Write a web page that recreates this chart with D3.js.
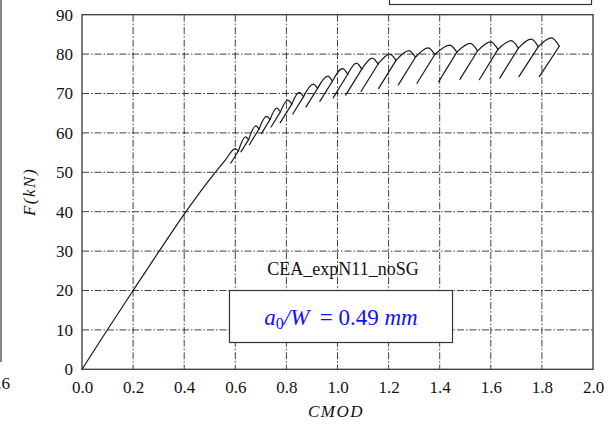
<!DOCTYPE html>
<html><head><meta charset="utf-8">
<script src="https://cdn.jsdelivr.net/npm/d3@7"></script>
<style>body{margin:0;background:#fff}svg{display:block}</style>
</head><body><svg id="c" width="614" height="427"></svg>
<script>
// ---- data ----
const xTicks = [0, 0.2, 0.4, 0.6, 0.8, 1.0, 1.2, 1.4, 1.6, 1.8, 2.0];
const yTicks = [0, 10, 20, 30, 40, 50, 60, 70, 80, 90];
// initial loading branch
const loadX = [0, 0.1, 0.2, 0.3, 0.4, 0.45, 0.5, 0.56];
const loadF = [0, 10.1, 20, 29.8, 39.4, 43.9, 48.2, 53.0];
// load cycles: peak, post-peak drop, unloading end
const peakX = [0.600, 0.640, 0.680, 0.722, 0.762, 0.805, 0.850, 0.905, 0.962, 1.020, 1.074, 1.136, 1.205, 1.280, 1.355, 1.440, 1.520, 1.600, 1.680, 1.758, 1.838];
const peakF = [56.0, 59.0, 61.8, 64.2, 66.3, 68.3, 70.3, 72.4, 74.4, 76.3, 77.7, 79.0, 80.0, 80.9, 81.6, 82.3, 82.7, 83.1, 83.4, 83.8, 84.1];
const dropX = [0.612, 0.652, 0.693, 0.736, 0.777, 0.821, 0.867, 0.922, 0.980, 1.040, 1.095, 1.159, 1.229, 1.305, 1.381, 1.467, 1.548, 1.628, 1.708, 1.786, 1.868];
const dropF = [55.4, 58.3, 61.0, 63.4, 65.4, 67.3, 69.2, 71.3, 73.1, 74.9, 76.2, 77.5, 78.4, 79.2, 79.9, 80.5, 80.8, 81.2, 81.5, 81.9, 82.0];
const lowX  = [0.582, 0.622, 0.655, 0.702, 0.740, 0.776, 0.825, 0.877, 0.931, 0.983, 1.032, 1.092, 1.161, 1.238, 1.311, 1.396, 1.479, 1.555, 1.635, 1.710, 1.790];
const lowF  = [52.3, 55.2, 57.0, 59.8, 61.5, 62.6, 64.8, 66.6, 68.0, 68.9, 69.6, 70.5, 71.3, 72.2, 72.6, 73.0, 73.6, 73.5, 73.9, 74.3, 74.3];
const specimen = "CEA_expN11_noSG";

// ---- drawing ----
const svg = d3.select("#c");
const m = {l: 82, r: 593, t: 14.7, b: 369.3};
const x = d3.scaleLinear().domain([0, 2]).range([m.l, m.r]);
const y = d3.scaleLinear().domain([0, 90]).range([m.b, m.t]);
const serif = "'Liberation Serif','Times New Roman',serif";

// cropped neighbours (edges of the original figure)
svg.append("line").attr("x1", 1).attr("x2", 1).attr("y1", 0).attr("y2", 362)
  .attr("stroke", "#333").attr("stroke-width", 1.2);
svg.append("text").attr("x", 10).attr("y", 389).attr("text-anchor", "end")
  .attr("font-family", serif).attr("font-size", 17).attr("fill", "#111").text("1.6");
svg.append("rect").attr("x", 389.5).attr("y", -5).attr("width", 202).attr("height", 9.5)
  .attr("fill", "none").attr("stroke", "#333").attr("stroke-width", 1.2);

// grid
const grid = svg.append("g").attr("stroke", "#111").attr("stroke-width", 0.8)
  .attr("stroke-dasharray", "7,2,1.5,2").attr("fill", "none");
grid.selectAll(".gx").data(xTicks.slice(1, -1)).join("line")
  .attr("x1", d => x(d)).attr("x2", d => x(d)).attr("y1", m.t).attr("y2", m.b);
grid.selectAll(".gy").data(yTicks.slice(1, -1)).join("line")
  .attr("y1", d => y(d)).attr("y2", d => y(d)).attr("x1", m.l).attr("x2", m.r);

// axes (labels only, frame drawn separately)
const ax = svg.append("g").attr("transform", `translate(0,${m.b})`)
  .call(d3.axisBottom(x).tickValues(xTicks).tickFormat(d3.format(".1f")).tickSize(0).tickPadding(12));
const ay = svg.append("g").attr("transform", `translate(${m.l},0)`)
  .call(d3.axisLeft(y).tickValues(yTicks).tickFormat(d3.format("d")).tickSize(0).tickPadding(9));
[ax, ay].forEach(g => {
  g.select(".domain").remove();
  g.selectAll("text").attr("font-family", serif).attr("font-size", 17).attr("fill", "#111");
});

// frame
svg.append("rect").attr("x", m.l).attr("y", m.t).attr("width", m.r - m.l).attr("height", m.b - m.t)
  .attr("fill", "none").attr("stroke", "#444").attr("stroke-width", 1.4);

// curve
const curveG = svg.append("g").attr("fill", "none").attr("stroke", "#1a1a1a")
  .attr("stroke-width", 1.2).attr("stroke-linejoin", "round").attr("stroke-linecap", "round");
const smooth = d3.line().x(d => x(d[0])).y(d => y(d[1])).curve(d3.curveMonotoneX);
const straight = d3.line().x(d => x(d[0])).y(d => y(d[1]));
const loadPts = loadX.map((v, i) => [v, loadF[i]]);
peakX.forEach((px, i) => {
  const head = i === 0 ? loadPts : [[dropX[i - 1], dropF[i - 1]]];
  curveG.append("path").attr("d", smooth(head.concat([[px, peakF[i]], [dropX[i], dropF[i]]])));
  curveG.append("path").attr("d", straight([[dropX[i], dropF[i]], [lowX[i], lowF[i]]]));
});

// specimen label
svg.append("text").attr("x", 343).attr("y", 275).attr("text-anchor", "middle")
  .attr("font-family", serif).attr("font-size", 18).attr("fill", "#111").text(specimen);

// a0/W box
svg.append("rect").attr("x", 229.5).attr("y", 290.5).attr("width", 223).attr("height", 52)
  .attr("fill", "#fff").attr("stroke", "#333").attr("stroke-width", 1.2);
const t = svg.append("text").attr("x", 341).attr("y", 325).attr("text-anchor", "middle")
  .attr("font-family", serif).attr("font-size", 23).attr("fill", "#1010ff");
t.append("tspan").attr("font-style", "italic").text("a");
t.append("tspan").attr("font-size", 16).attr("dy", 4).text("0");
t.append("tspan").attr("font-style", "italic").attr("dy", -4).text("/W");
t.append("tspan").text("\u2009 = 0.49 ");
t.append("tspan").attr("font-style", "italic").text("mm");

// axis titles
svg.append("text").attr("x", 336).attr("y", 417).attr("text-anchor", "middle")
  .attr("font-family", serif).attr("font-style", "italic").attr("font-size", 17)
  .attr("letter-spacing", 1.5).attr("fill", "#111").text("CMOD");
svg.append("text").attr("transform", "translate(35,192) rotate(-90)").attr("text-anchor", "middle")
  .attr("font-family", serif).attr("font-style", "italic").attr("font-size", 17)
  .attr("letter-spacing", 1.5).attr("fill", "#111").text("F(kN)");
</script></body></html>
